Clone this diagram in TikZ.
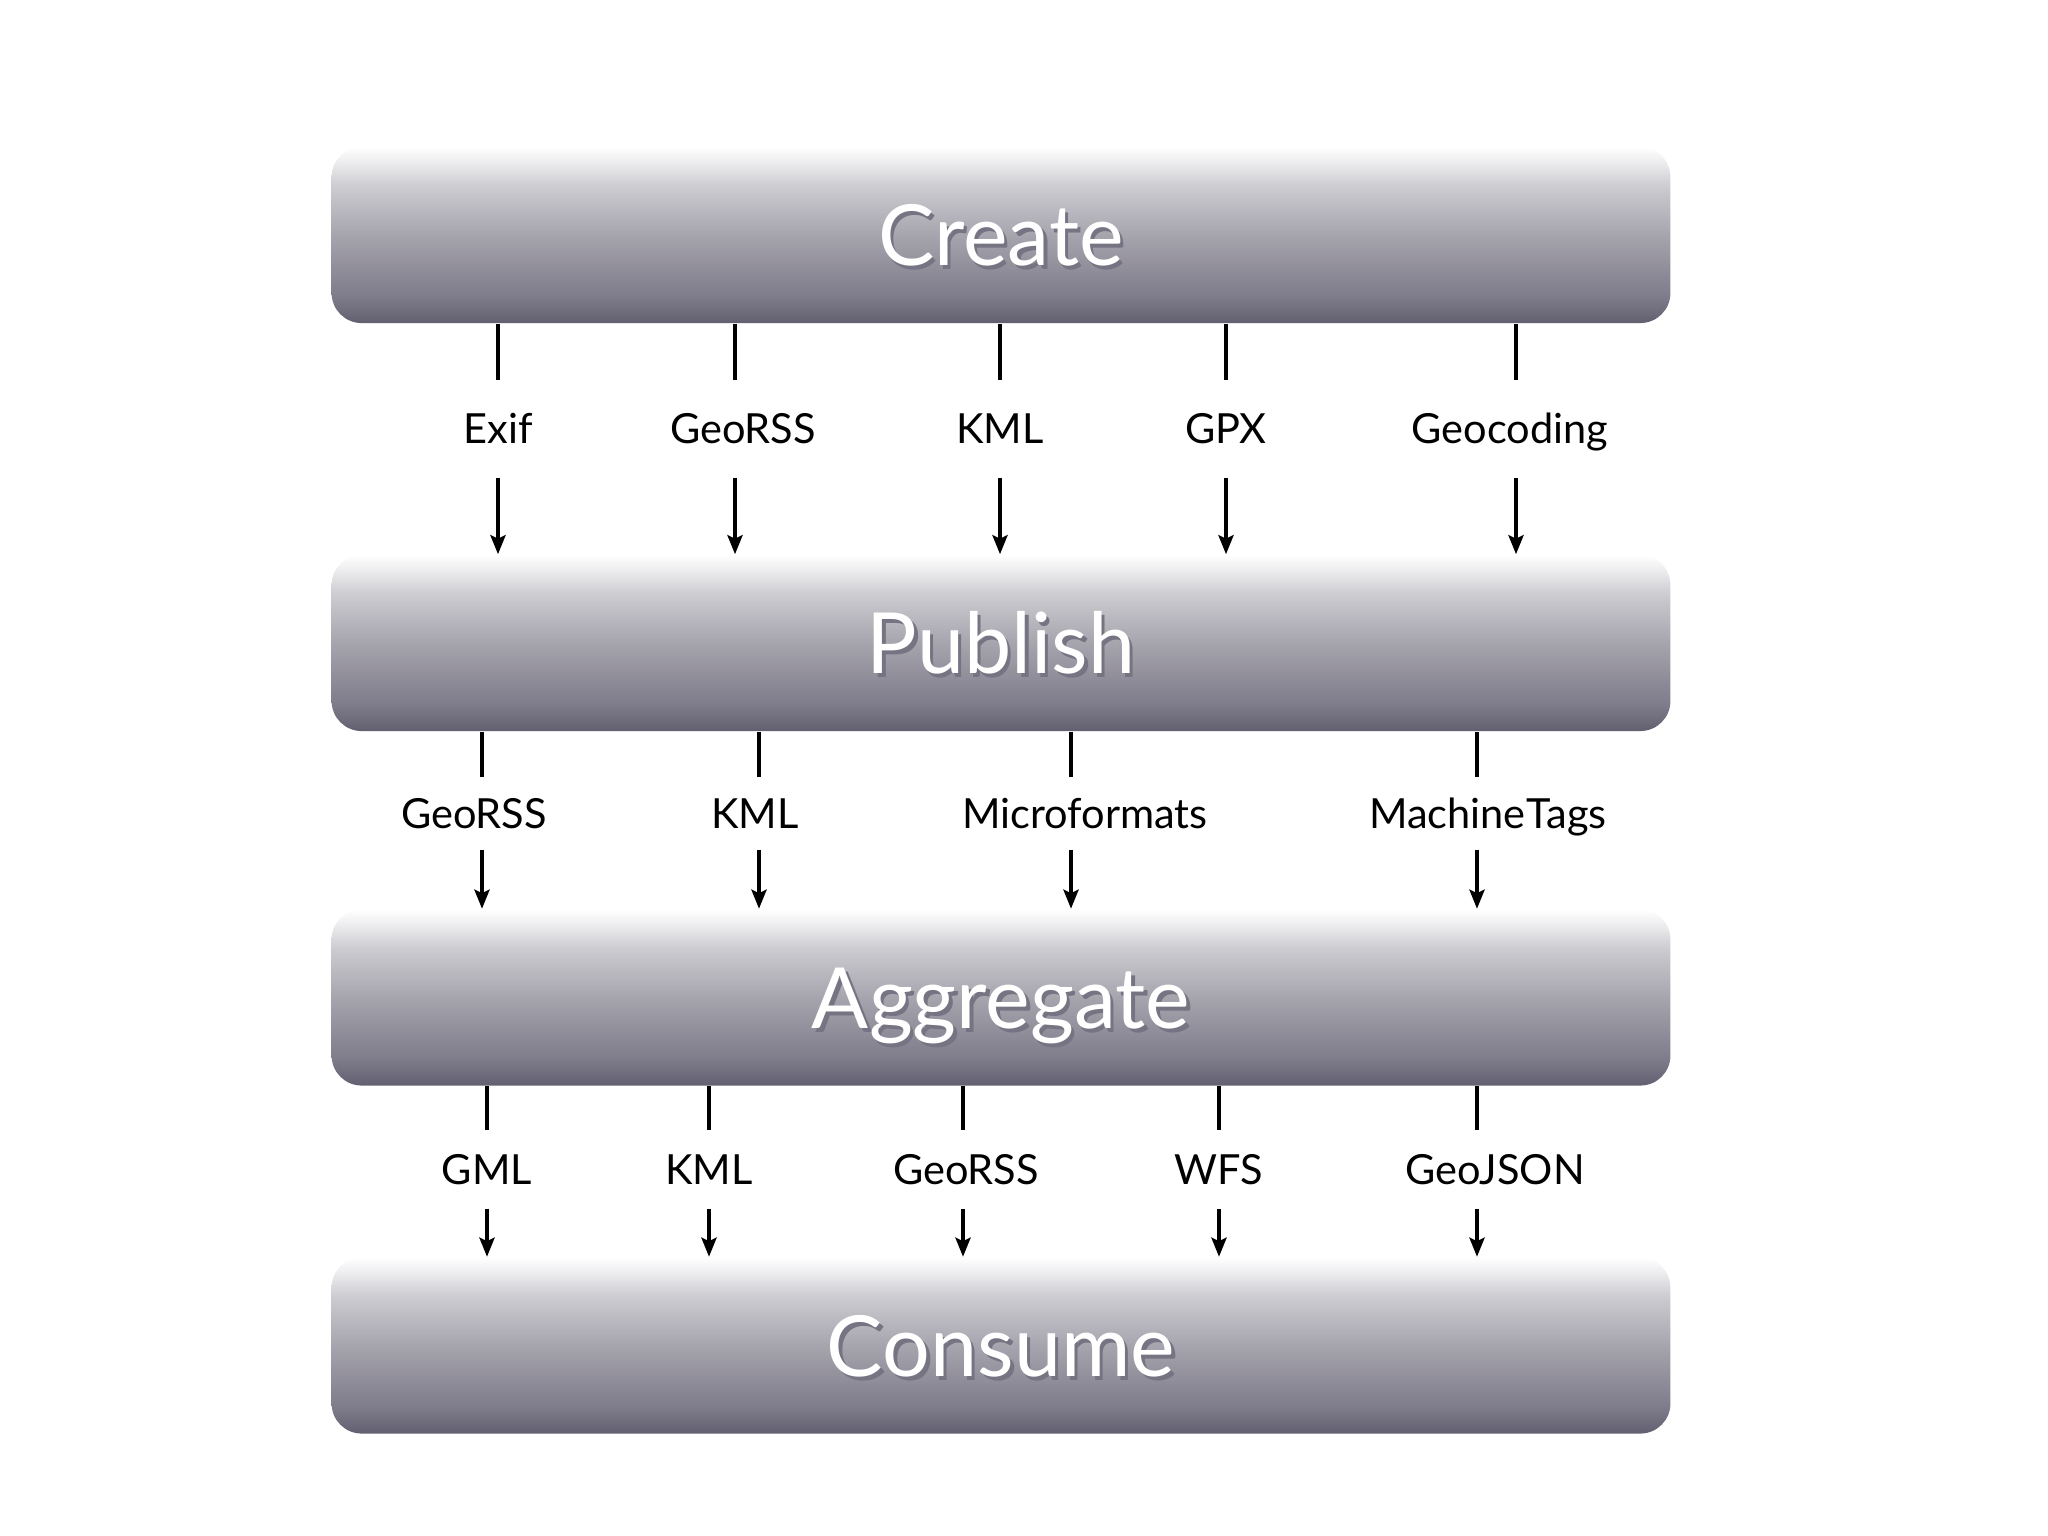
\documentclass[tikz,border=0pt]{standalone}
\usepackage{fontspec}
\setmainfont{Lato}
\usetikzlibrary{arrows.meta}
\definecolor{bxd}{RGB}{98,95,112}
\definecolor{bxm1}{RGB}{128,125,140}
\definecolor{bxm}{RGB}{166,164,173}
\definecolor{bxl}{RGB}{205,204,209}
\definecolor{bxt}{RGB}{238,238,240}
\definecolor{shadowc}{RGB}{118,116,130}
\pgfdeclareverticalshading{boxshade}{100bp}{color(0bp)=(bxd); color(25bp)=(bxd); color(33bp)=(bxm1); color(50bp)=(bxm); color(64bp)=(bxl); color(71bp)=(bxt); color(75bp)=(white); color(100bp)=(white)}
\newcommand\shadowed[1]{\leavevmode\rlap{\kern1pt\raisebox{-1.2pt}{\textcolor{shadowc}{#1}}}#1}
\tikzset{
  stage/.style={rectangle, rounded corners=0.3cm, shading=boxshade,
    minimum width=13.38cm, minimum height=1.76cm, inner sep=0pt,
    text=white, font=\fontsize{24}{28}\selectfont, text height=17.4pt, text depth=0pt},
  fmt/.style={inner sep=0pt, font=\fontsize{11.8}{14}\selectfont, text height=8.5pt, text depth=0pt},
  rowa/.style={fmt, minimum height=0.96cm},
  rowb/.style={fmt, minimum height=0.71cm},
  rowc/.style={fmt, minimum height=0.77cm},
  link/.style={line width=0.042cm},
  flow/.style={link, -{Stealth[length=0.19cm,width=0.15cm,inset=0.035cm]}}
}
\begin{document}
\begin{tikzpicture}[x=0.01cm,y=-0.01cm]
\useasboundingbox[fill=white] (0,0) rectangle (2048,1536);

\node[stage] (create) at (1001,235) {\shadowed{Create}};
\node[stage] (publish) at (1001,643) {\shadowed{Publish}};
\node[stage] (aggregate) at (1001,997.5) {\shadowed{Aggregate}};
\node[stage] (consume) at (1001,1345.5) {\shadowed{Consume}};

% Create -> Publish
\node[rowa] (a1) at (498,429) {Exif};
\node[rowa] (a2) at (735,429) {\hspace*{0.16cm}GeoRSS};
\node[rowa] (a3) at (1000,429) {KML};
\node[rowa] (a4) at (1226,429) {GPX};
\node[rowa] (a5) at (1516,429) {Geocoding\hspace*{0.12cm}};
\foreach \n in {a1,a2,a3,a4,a5}{
  \draw[link] (create.south -| \n.north) -- (\n.north);
  \draw[flow] (\n.south) -- (publish.north -| \n.south);
}

% Publish -> Aggregate
\node[rowb] (b1) at (482,813.5) {GeoRSS\hspace*{0.16cm}};
\node[rowb] (b2) at (759,813.5) {KML\hspace*{0.08cm}};
\node[rowb] (b3) at (1071,813.5) {\hspace*{0.28cm}Microformats};
\node[rowb] (b4) at (1477,813.5) {\hspace*{0.22cm}Machine\kern0.3pt Tags};
\foreach \n in {b1,b2,b3,b4}{
  \draw[link] (publish.south -| \n.north) -- (\n.north);
  \draw[flow] (\n.south) -- (aggregate.north -| \n.south);
}

% Aggregate -> Consume
\node[rowc] (c1) at (487,1169.5) {GML};
\node[rowc] (c2) at (709,1169.5) {KML};
\node[rowc] (c3) at (963,1169.5) {\hspace*{0.06cm}GeoRSS};
\node[rowc] (c4) at (1219,1169.5) {WFS};
\node[rowc] (c5) at (1477,1169.5) {\hspace*{0.36cm}GeoJSON};
\foreach \n in {c1,c2,c3,c4,c5}{
  \draw[link] (aggregate.south -| \n.north) -- (\n.north);
  \draw[flow] (\n.south) -- (consume.north -| \n.south);
}
\end{tikzpicture}
\end{document}
